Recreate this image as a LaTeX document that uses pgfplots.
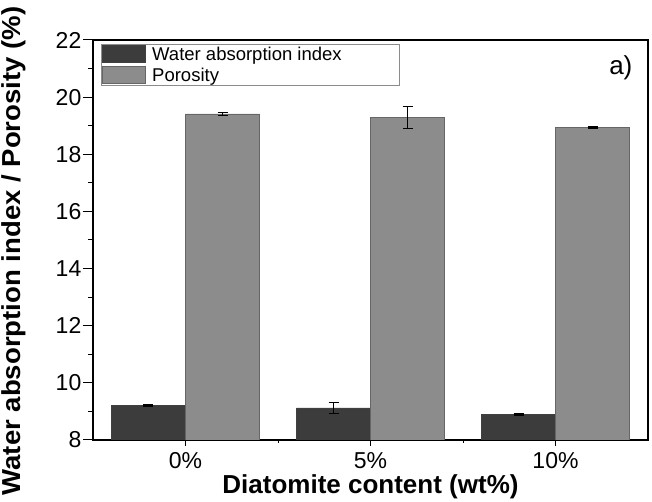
\documentclass[border=0pt]{standalone}
\usepackage{fontspec}
\setmainfont{Liberation Sans}
\usepackage{graphicx}
\usepackage{pgfplots}
\pgfplotsset{compat=1.18}
\usepackage{pgfplotstable}
\definecolor{wai}{HTML}{3C3C3C}
\definecolor{por}{HTML}{8C8C8C}
\pgfplotstableread{
x y e
0 9.20 0.03
1 9.12 0.20
2 8.88 0.03
}\waidata
\pgfplotstableread{
x y e
0 19.41 0.05
1 19.28 0.38
2 18.93 0.03
}\pordata
\pgfplotsset{
  mylegend/.style={legend image code/.code={\draw[##1, line width=0.8pt] (0pt,-8.5pt) rectangle (43pt,8.5pt);}},
  myerr/.style={error bars/.cd, y dir=both, y explicit,
    error bar style={line width=1.3pt, black, solid},
    error mark options={rotate=90, mark size=5pt, line width=1.3pt, black}}
}
\begin{document}
\begin{tikzpicture}
\begin{axis}[
  at={(0,0)}, anchor=south west,
  scale only axis, width=555pt, height=400pt,
  xmin=-0.5, xmax=2.5, ymin=8, ymax=22,
  ybar=0pt, bar width=0.4,
  xtick={0,1,2}, xticklabels={0\%,5\%,10\%},
  minor xtick={0.5,1.5},
  ytick={8,10,...,22}, minor ytick={9,11,...,21},
  tick pos=left, tick align=outside,
  major tick length=10pt, minor tick length=5pt,
  xtick style={/pgfplots/major tick length=6pt, /pgfplots/minor tick length=3pt},
  axis line style={line width=2.2pt},
  tick style={line width=1pt, black},
  /pgf/number format/assume math mode=true,
  ticklabel style={font=\fontsize{23}{26}\selectfont},
  yticklabel style={inner sep=1.5pt},
  xticklabel style={inner sep=2pt},
  xlabel={Diatomite content (wt\%)},
  xlabel style={at={(axis description cs:0.5,-0.135)}, anchor=base, font=\bfseries\fontsize{26}{30}\selectfont},
  ylabel={\scalebox{1.06}[1]{Water absorption index / Porosity (\%)}},
  ylabel style={at={(axis description cs:-0.1658,0.4725)}, anchor=north, inner sep=0pt, font=\bfseries\fontsize{26}{30}\selectfont},
  legend style={at={(axis description cs:0.0144,0.99)}, anchor=north west, draw=black!45, line width=0.8pt,
    inner sep=1pt, font=\fontsize{18.5}{20}\selectfont, row sep=3pt, column sep=5pt,
    nodes={inner sep=1pt}},
  legend cell align=left,
]
\addplot[fill=wai, draw=black!75, line width=0.8pt, mylegend, myerr] table[x=x,y=y,y error=e]{\waidata};
\addlegendentry{\makebox[245pt][l]{Water absorption index}}
\addplot[fill=por, draw=black!60, line width=0.8pt, mylegend, myerr] table[x=x,y=y,y error=e]{\pordata};
\addlegendentry{\makebox[245pt][l]{Porosity}}
\node[anchor=base, font=\fontsize{26}{30}\selectfont] at (rel axis cs:0.951,0.9125) {a)};
\end{axis}
\pgfresetboundingbox
\path[use as bounding box] (-93pt,-62pt) rectangle (559pt,440pt);
\end{tikzpicture}
\end{document}
